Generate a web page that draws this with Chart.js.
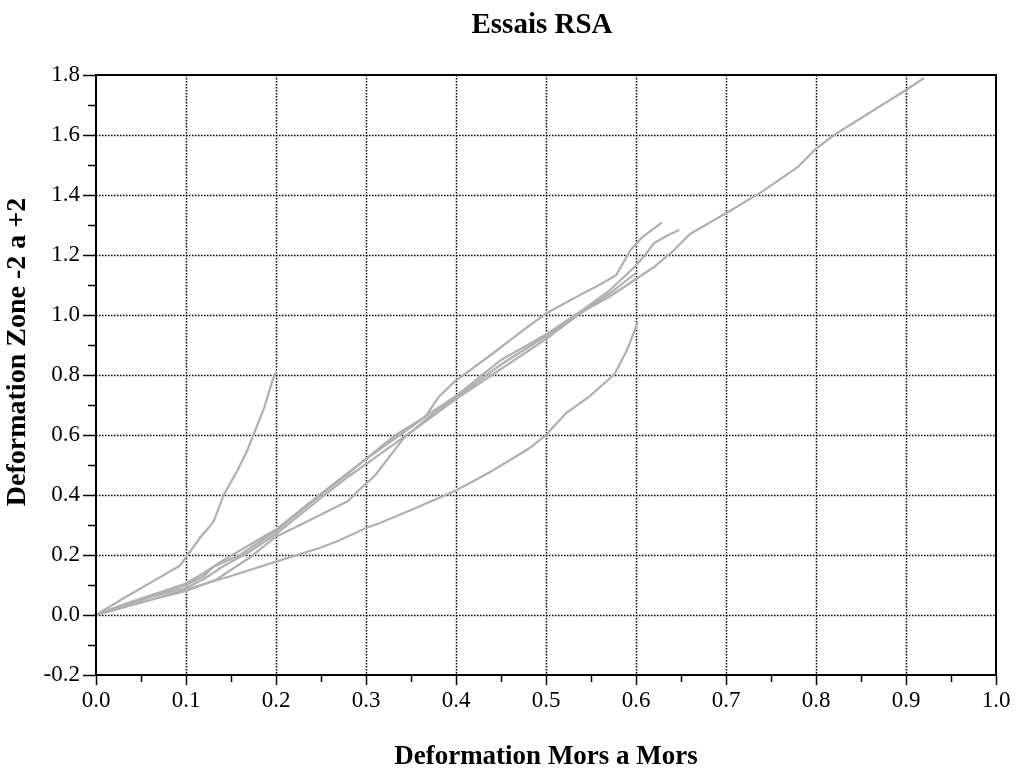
<!DOCTYPE html>
<html>
<head>
<meta charset="utf-8">
<script src="https://cdn.jsdelivr.net/npm/chart.js@4.4.1/dist/chart.umd.min.js"></script>
<style>
  body { margin: 0; background: #fff; }
  #wrap { width: 1016px; height: 769px; }
</style>
</head>
<body>
<div id="wrap"><canvas id="myChart" width="1016" height="769"></canvas></div>
<script>
// tick labels
const xTicks = [0.0, 0.1, 0.2, 0.3, 0.4, 0.5, 0.6, 0.7, 0.8, 0.9, 1.0];
const yTicks = [-0.2, 0.0, 0.2, 0.4, 0.6, 0.8, 1.0, 1.2, 1.4, 1.6, 1.8];

// essai 1 : steep one, ends at 0.2
const e1X = [0, 0.03, 0.066, 0.093, 0.1, 0.116, 0.126, 0.131, 0.142, 0.157, 0.168, 0.175, 0.187, 0.196, 0.2];
const e1Y = [0, 0.055, 0.117, 0.164, 0.192, 0.259, 0.294, 0.314, 0.401, 0.481, 0.548, 0.601, 0.692, 0.781, 0.81];

// essai 2 : lowest one, ends at 0.6
const e2X = [0, 0.03, 0.06, 0.1, 0.15, 0.2, 0.25, 0.27, 0.3, 0.314, 0.35, 0.4, 0.44, 0.481, 0.5, 0.522, 0.548, 0.576, 0.59, 0.6, 0.602];
const e2Y = [0, 0.025, 0.05, 0.085, 0.13, 0.178, 0.225, 0.248, 0.29, 0.305, 0.35, 0.415, 0.48, 0.555, 0.6, 0.672, 0.728, 0.802, 0.883, 0.96, 0.975];

// essai 3 : upper of the bundle, ends at 0.63
const e3X = [0, 0.03, 0.06, 0.1, 0.12, 0.14, 0.2, 0.25, 0.3, 0.34, 0.366, 0.381, 0.398, 0.44, 0.48, 0.5, 0.541, 0.559, 0.578, 0.594, 0.607, 0.629];
const e3Y = [0, 0.035, 0.065, 0.105, 0.14, 0.18, 0.285, 0.405, 0.52, 0.605, 0.661, 0.728, 0.777, 0.87, 0.961, 1.005, 1.072, 1.1, 1.133, 1.217, 1.26, 1.309];

// essai 4 : ends at 0.648
const e4X = [0, 0.02, 0.05, 0.08, 0.1, 0.12, 0.13, 0.16, 0.2, 0.25, 0.28, 0.314, 0.333, 0.36, 0.4, 0.45, 0.5, 0.54, 0.57, 0.6, 0.61, 0.62, 0.635, 0.648];
const e4Y = [0, 0.02, 0.05, 0.08, 0.1, 0.13, 0.16, 0.2, 0.28, 0.4, 0.47, 0.555, 0.6, 0.65, 0.73, 0.85, 0.935, 1.015, 1.08, 1.165, 1.2, 1.24, 1.265, 1.283];

// essai 5 : longest one, up to 0.92
const e5X = [0, 0.03, 0.06, 0.1, 0.12, 0.14, 0.17, 0.2, 0.25, 0.28, 0.314, 0.35, 0.4, 0.45, 0.5, 0.54, 0.57, 0.6, 0.62, 0.64, 0.66, 0.7, 0.74, 0.78, 0.8, 0.82, 0.86, 0.9, 0.92];
const e5Y = [0, 0.03, 0.06, 0.09, 0.12, 0.16, 0.21, 0.27, 0.39, 0.46, 0.533, 0.61, 0.72, 0.82, 0.92, 1.01, 1.06, 1.12, 1.16, 1.21, 1.27, 1.339, 1.411, 1.494, 1.555, 1.6, 1.675, 1.75, 1.79];

// essai 6 : lags then catches up, ends near 0.6
const e6X = [0, 0.03, 0.06, 0.1, 0.133, 0.17, 0.2, 0.24, 0.26, 0.28, 0.29, 0.31, 0.342, 0.37, 0.4, 0.45, 0.5, 0.54, 0.57, 0.6];
const e6Y = [0, 0.025, 0.05, 0.08, 0.117, 0.19, 0.261, 0.32, 0.35, 0.38, 0.41, 0.465, 0.59, 0.66, 0.725, 0.835, 0.93, 1.01, 1.07, 1.14];

const essais = [[e1X, e1Y], [e2X, e2Y], [e3X, e3Y], [e4X, e4Y], [e5X, e5Y], [e6X, e6Y]];

const serif = '"Liberation Serif", "Times New Roman", serif';
const grey = 'rgb(176, 176, 176)';

function isMajor(v, list) {
    return list.some(t => Math.abs(t - v) < 0.01);
}

const frame = {
    id: 'frame',
    beforeDatasetsDraw(chart) {
        const {ctx, chartArea: a, scales: {x, y}} = chart;
        ctx.save();
        ctx.strokeStyle = '#000';
        ctx.lineWidth = 1.5;
        ctx.setLineDash([1.5, 1.5]);
        xTicks.forEach(v => {
            const px = Math.round(x.getPixelForValue(v)) + 0.5;
            if (px < a.left + 2 || px > a.right - 2) return;
            ctx.beginPath();
            ctx.moveTo(px, a.top);
            ctx.lineTo(px, a.bottom);
            ctx.stroke();
        });
        yTicks.forEach(v => {
            const py = Math.round(y.getPixelForValue(v)) + 0.5;
            if (py < a.top + 2 || py > a.bottom - 2) return;
            ctx.beginPath();
            ctx.moveTo(a.left, py);
            ctx.lineTo(a.right, py);
            ctx.stroke();
        });
        ctx.restore();
    },
    afterDatasetsDraw(chart) {
        const {ctx, chartArea: a, scales: {x, y}} = chart;
        ctx.save();
        ctx.strokeStyle = '#000';
        ctx.lineWidth = 2;
        ctx.strokeRect(a.left, a.top, a.right - a.left, a.bottom - a.top);
        ctx.lineWidth = 1.5;
        x.ticks.forEach(t => {
            const px = Math.round(x.getPixelForValue(t.value)) + 0.5;
            const len = isMajor(t.value, xTicks) ? 10 : 7;
            ctx.beginPath();
            ctx.moveTo(px, a.bottom);
            ctx.lineTo(px, a.bottom + len);
            ctx.stroke();
        });
        y.ticks.forEach(t => {
            const py = Math.round(y.getPixelForValue(t.value)) + 0.5;
            const len = isMajor(t.value, yTicks) ? 13 : 8;
            ctx.beginPath();
            ctx.moveTo(a.left - len, py);
            ctx.lineTo(a.left, py);
            ctx.stroke();
        });
        ctx.restore();
    },
    afterDraw(chart) {
        const {ctx, chartArea: a} = chart;
        const cx = (a.left + a.right) / 2;
        ctx.save();
        ctx.fillStyle = '#000';
        ctx.textAlign = 'center';
        ctx.textBaseline = 'middle';
        ctx.font = 'bold 29px ' + serif;
        ctx.fillText('Essais RSA', cx - 4, 26);
        ctx.font = 'bold 27px ' + serif;
        ctx.fillText('Deformation Mors a Mors', cx, 757);
        ctx.font = 'bold 28px ' + serif;
        ctx.translate(18, 352);
        ctx.rotate(-Math.PI / 2);
        ctx.fillText('Deformation Zone -2 a +2', 0, 0);
        ctx.restore();
    }
};

const ctx = document.getElementById('myChart').getContext('2d');

const chart = new Chart(ctx, {
    type: 'scatter',
    data: {
        datasets: essais.map(([xs, ys], i) => ({
            label: 'Essai ' + (i + 1),
            data: xs.map((v, j) => ({x: v, y: ys[j]})),
            showLine: true,
            borderColor: grey,
            backgroundColor: grey,
            borderWidth: 2.2,
            pointRadius: 0,
            tension: 0
        }))
    },
    options: {
        responsive: false,
        animation: false,
        events: [],
        layout: {
            padding: {top: 75, right: 20, left: 0, bottom: 0}
        },
        plugins: {
            legend: {display: false},
            title: {display: false},
            tooltip: {enabled: false}
        },
        scales: {
            x: {
                type: 'linear',
                min: xTicks[0],
                max: xTicks[xTicks.length - 1],
                grid: {display: false, drawTicks: false},
                border: {display: false},
                afterFit: s => { s.height = 94; s.paddingRight = 0; s.paddingLeft = 0; },
                ticks: {
                    stepSize: 0.05,
                    autoSkip: false,
                    maxRotation: 0,
                    padding: 12,
                    color: '#000',
                    font: {family: serif, size: 23},
                    callback: v => isMajor(v, xTicks) ? v.toFixed(1) : ''
                }
            },
            y: {
                type: 'linear',
                min: yTicks[0],
                max: yTicks[yTicks.length - 1],
                grid: {display: false, drawTicks: false},
                border: {display: false},
                afterFit: s => { s.width = 96; s.paddingTop = 0; s.paddingBottom = 0; },
                ticks: {
                    stepSize: 0.1,
                    autoSkip: false,
                    padding: 16,
                    color: '#000',
                    font: {family: serif, size: 23},
                    callback: v => isMajor(v, yTicks) ? v.toFixed(1) : ''
                }
            }
        }
    },
    plugins: [frame]
});
</script>
</body>
</html>
